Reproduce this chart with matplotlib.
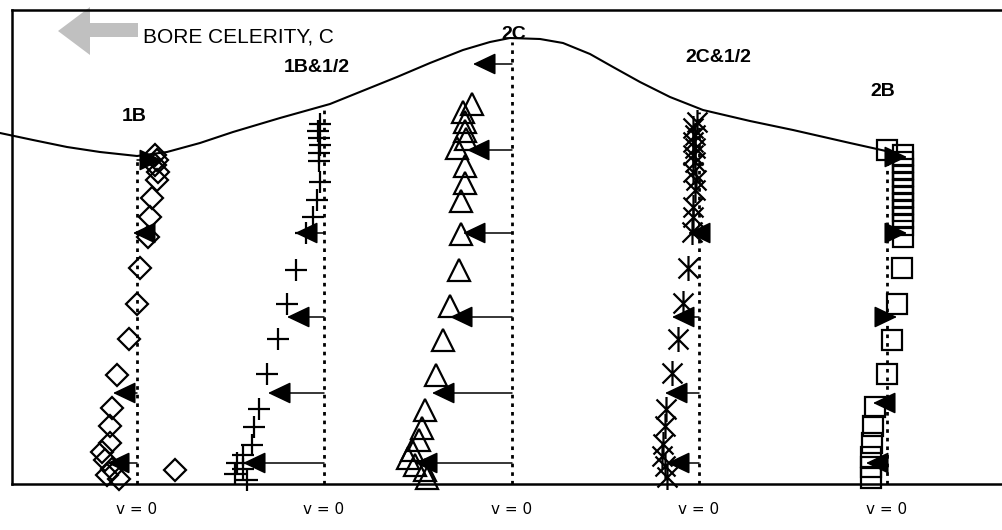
import numpy as np
import matplotlib
matplotlib.use('Agg')
import matplotlib.pyplot as plt
from matplotlib.path import Path
from matplotlib.patches import Polygon

# ---------------- data ----------------
# measurement stations (horizontal position, plot units) and their labels
stations = [137, 324, 512, 699, 887]
station_labels = ["1B", "1B&1/2", "2C", "2C&1/2", "2B"]

# water-surface profile (x, elevation above bed)
surf_x = [0, 33, 67, 100, 137, 167, 200, 233, 280, 330, 397, 430, 463, 490, 510,
          540, 563, 590, 613, 640, 670, 703, 750, 793, 850, 895]
surf_z = [351, 344, 337, 332, 328, 332, 341, 352, 366, 380, 407, 421, 434, 442, 446,
          445, 441, 430, 417, 402, 387, 374, 363, 354, 341, 331]

# velocity profiles: u = horizontal velocity (plot units), z = elevation
u_1B = [18, 20, 18, 21, 20, 15, 13, 11, 3, 0, -8, -20, -25, -27, -27, -35, -32, -25, -30, -18, 38]
z_1B = [329, 324, 319, 312, 304, 286, 267, 247, 216, 180, 145, 109, 76, 58, 41, 32, 24, 15, 9, 5, 14]

u_1B5 = [-4, -6, -5, -4, -5, -5, -4, -7, -11, -18, -28, -37, -46, -57, -65, -70, -72, -81, -87, -81, -89, -77]
z_1B5 = [360, 353, 346, 339, 331, 323, 302, 284, 267, 251, 214, 180, 145, 110, 75, 57, 39, 29, 21, 15, 10, 4]

u_2C = [-40, -49, -47, -47, -46, -55, -47, -47, -51, -51, -53, -62, -69, -76, -87, -90, -93, -100, -104, -97, -87, -85]
z_2C = [380, 372, 362, 353, 345, 336, 318, 301, 283, 250, 214, 178, 144, 109, 74, 56, 44, 34, 26, 19, 14, 6]

u_2C5 = [-2, -6, -4, -6, -4, -6, -4, -6, -3, -4, -6, -6, -7, -11, -16, -21, -27, -33, -34, -36, -37, -34, -32]
z_2C5 = [362, 356, 349, 342, 336, 329, 322, 312, 304, 294, 277, 267, 252, 216, 181, 145, 111, 75, 58, 40, 28, 18, 7]

u_2B = [0, 16, 16, 16, 16, 16, 16, 16, 16, 16, 16, 16, 16, 15, 10, 5, 0, -12, -14, -15, -16, -16, -16]
z_2B = [334, 329, 322, 315, 308, 301, 294, 287, 280, 273, 266, 259, 247, 216, 180, 144, 110, 77, 58, 41, 27, 17, 6]

# mean-velocity arrows at each station: (elevation, u)
arr_z_1B = [324, 251, 91, 21]
arr_u_1B = [25, -4, -24, -30]
arr_z_1B5 = [251, 167, 91, 21]
arr_u_1B5 = [-29, -37, -56, -81]
arr_z_2C = [420, 334, 251, 167, 91, 21]
arr_u_2C = [-39, -45, -49, -62, -80, -97]
arr_z_2C5 = [251, 167, 91, 21]
arr_u_2C5 = [-11, -27, -34, -32]
arr_z_2B = [327, 251, 167, 81, 21]
arr_u_2B = [20, 20, 10, -14, -21]

# ---------------- figure ----------------
W, H = 1002, 530
fig = plt.figure(figsize=(W / 100, H / 100), dpi=100)
ax = fig.add_axes([12 / W, (H - 484) / H, (W - 12) / W, 474 / H])
ax.set_xlim(12, 1002)
ax.set_ylim(0, 474)
ax.set_xticks([])
ax.set_yticks([])
for s in ['left', 'top', 'bottom']:
    ax.spines[s].set_linewidth(1.8)
ax.spines['right'].set_visible(False)

# water surface
ax.plot(surf_x, surf_z, color='black', lw=1.5, clip_on=False, zorder=3)

# v = 0 dotted lines
for xs in stations:
    top = np.interp(xs, surf_x, surf_z) - 4
    ax.plot([xs, xs], [0, top], color='black', lw=2.0,
            linestyle=(0, (1.3, 1.8)), zorder=2)
    ax.text(xs, -25, "v = 0", ha='center', va='center', fontsize=11,
            family='DejaVu Sans', clip_on=False)

# custom asterisk marker (x with a vertical bar)
ast = Path([(-1, -1), (1, 1), (-1, 1), (1, -1), (0, -1.25), (0, 1.25)],
           [Path.MOVETO, Path.LINETO, Path.MOVETO, Path.LINETO, Path.MOVETO, Path.LINETO])

profiles = [
    (u_1B, z_1B, 'D', 11.5),
    (u_1B5, z_1B5, '+', 16.5),
    (u_2C, z_2C, '^', 16),
    (u_2C5, z_2C5, ast, 18),
    (u_2B, z_2B, 's', 15),
]
for xs, (u, z, m, ms) in zip(stations, profiles):
    ax.plot(np.array(u) + xs, z, linestyle='none', marker=m, markersize=ms,
            markerfacecolor='none', markeredgecolor='black', markeredgewidth=1.6,
            zorder=4, clip_on=False)

arrows = [(arr_z_1B, arr_u_1B), (arr_z_1B5, arr_u_1B5), (arr_z_2C, arr_u_2C),
          (arr_z_2C5, arr_u_2C5), (arr_z_2B, arr_u_2B)]
for xs, (az, au) in zip(stations, arrows):
    for zz, uu in zip(az, au):
        ax.annotate("", xy=(xs + uu, zz), xytext=(xs, zz),
                    arrowprops=dict(arrowstyle='-|>,head_length=0.4,head_width=0.19',
                                    mutation_scale=36, lw=1.1, color='black',
                                    shrinkA=0, shrinkB=0),
                    zorder=5)

# station labels
label_pos = [(134, 368), (317, 417), (514, 450), (718, 427), (883, 393)]
for (lx, lz), t in zip(label_pos, station_labels):
    ax.text(lx, lz, t, ha='center', va='center', fontsize=14, fontweight='bold',
            family='Liberation Sans', zorder=6)

# bore celerity arrow
arrow_poly = Polygon([(58, 453), (90, 477), (90, 461), (138, 461), (138, 447),
                      (90, 447), (90, 429)], closed=True, facecolor='#c0c0c0',
                     edgecolor='none', clip_on=False, zorder=1)
ax.add_patch(arrow_poly)
ax.text(143, 447, "BORE CELERITY, C", ha='left', va='center', fontsize=15,
        family='Liberation Sans')

fig.savefig('out.png', dpi=100)
